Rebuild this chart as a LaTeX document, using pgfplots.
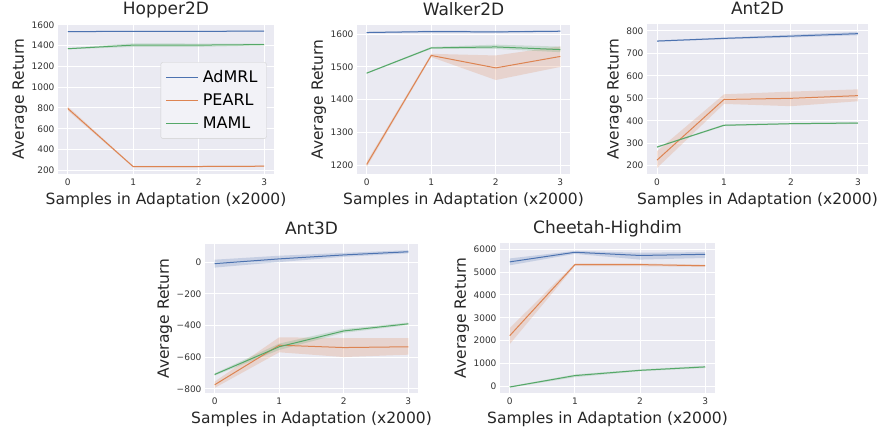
\documentclass[border=0pt]{standalone}
\usepackage{pgfplots}
\pgfplotsset{compat=1.18}
\usepackage{fontspec}
\setmainfont{DejaVu Sans}

\definecolor{cB}{HTML}{4C72B0}
\definecolor{cO}{HTML}{DD8452}
\definecolor{cG}{HTML}{55A868}
\definecolor{bgc}{HTML}{EAEAF2}
\definecolor{tickc}{HTML}{333333}

\pgfplotsset{
  sb/.style={
    scale only axis,
    anchor=south west,
    axis background/.style={fill=bgc},
    axis line style={draw=none},
    tick style={draw=none},
    grid=major,
    major grid style={white, line width=1pt},
    xmin=-0.15, xmax=3.15,
    xtick={0,1,2,3},
    /pgf/number format/assume math mode=true,
    /pgf/number format/1000 sep={},
    ticklabel style={font=\fontsize{9}{10}\selectfont, text=tickc},
    xticklabel style={yshift=-1pt},
    label style={font=\fontsize{15.5}{18}\selectfont, text=black!85},
    xlabel={Samples in Adaptation (x2000)},
    ylabel={Average Return},
    xlabel style={at={(axis description cs:0.5,0)}, anchor=base, yshift=-30pt, inner sep=0pt},
    ylabel style={inner sep=1pt},
    title style={font=\fontsize{17}{20}\selectfont, text=black!85, at={(axis description cs:0.5,1)}, anchor=base, yshift=3.5pt, inner sep=0pt},
    every axis plot/.append style={line width=1pt},
  },
  band/.style={draw=none, fill=#1, fill opacity=0.22, forget plot},
}

\begin{document}
\begin{tikzpicture}

% Hopper2D
\begin{axis}[sb, at={(58pt,-174pt)}, width=216pt, height=150pt,
  title={Hopper2D}, ymin=165, ymax=1608,
  ytick={200,400,...,1600},
  legend style={at={(0.966,0.745)}, anchor=north east, fill=bgc!60!white, draw=black!18, rounded corners=2pt,
    font=\fontsize{16}{18}\selectfont, row sep=6pt, inner xsep=5pt, inner ysep=6pt,
    nodes={inner xsep=4pt}},
  legend cell align=left,
  legend image code/.code={\draw[#1] (0pt,0pt) -- (32pt,0pt);},
]
\addplot[band=cB] coordinates {(0,1540)(1,1542)(2,1542)(3,1545)(3,1535)(2,1532)(1,1532)(0,1530)} -- cycle;
\addplot[band=cO] coordinates {(0,815)(1,242)(2,244)(3,247)(3,233)(2,230)(1,228)(0,775)} -- cycle;
\addplot[band=cG] coordinates {(0,1376)(1,1422)(2,1420)(3,1418)(3,1402)(2,1388)(1,1388)(0,1364)} -- cycle;
\addplot[cB] coordinates {(0,1535)(1,1537)(2,1537)(3,1540)};
\addplot[cO] coordinates {(0,795)(1,235)(2,237)(3,240)};
\addplot[cG] coordinates {(0,1370)(1,1405)(2,1405)(3,1410)};
\legend{AdMRL,PEARL,MAML}
\end{axis}

% Walker2D
\begin{axis}[sb, at={(357pt,-174pt)}, width=213pt, height=149pt,
  title={Walker2D}, ymin=1173, ymax=1628,
  ytick={1200,1300,...,1600},
]
\addplot[band=cB] coordinates {(0,1607)(1,1611)(2,1610)(3,1611)(3,1607)(2,1604)(1,1605)(0,1603)} -- cycle;
\addplot[band=cO] coordinates {(0,1210)(1,1540)(2,1535)(3,1563)(3,1500)(2,1460)(1,1530)(0,1194)} -- cycle;
\addplot[band=cG] coordinates {(0,1483)(1,1561)(2,1568)(3,1562)(3,1545)(2,1555)(1,1555)(0,1479)} -- cycle;
\addplot[cB] coordinates {(0,1605)(1,1608)(2,1607)(3,1609)};
\addplot[cO] coordinates {(0,1202)(1,1535)(2,1497)(3,1532)};
\addplot[cG] coordinates {(0,1481)(1,1558)(2,1561)(3,1553)};
\end{axis}

% Ant2D
\begin{axis}[sb, at={(647pt,-174pt)}, width=221pt, height=150pt,
  title={Ant2D}, ymin=163, ymax=831,
  ytick={200,300,...,800},
]
\addplot[band=cB] coordinates {(0,758)(1,771)(2,783)(3,796)(3,781)(2,771)(1,763)(0,752)} -- cycle;
\addplot[band=cO] coordinates {(0,265)(1,518)(2,530)(3,540)(3,487)(2,465)(1,475)(0,190)} -- cycle;
\addplot[band=cG] coordinates {(0,286)(1,384)(2,390)(3,394)(3,386)(2,384)(1,376)(0,280)} -- cycle;
\addplot[cB] coordinates {(0,755)(1,767)(2,777)(3,788)};
\addplot[cO] coordinates {(0,225)(1,495)(2,500)(3,512)};
\addplot[cG] coordinates {(0,283)(1,380)(2,387)(3,390)};
\end{axis}

% Ant3D
\begin{axis}[sb, at={(205pt,-393pt)}, width=213pt, height=149pt,
  title={Ant3D}, ymin=-827, ymax=114,
  ytick={-800,-600,-400,-200,0},
  yticklabels={−800,−600,−400,−200,0},
]
\addplot[band=cB] coordinates {(0,15)(1,40)(2,58)(3,75)(3,55)(2,33)(1,0)(0,-35)} -- cycle;
\addplot[band=cO] coordinates {(0,-755)(1,-475)(2,-480)(3,-480)(3,-585)(2,-600)(1,-570)(0,-795)} -- cycle;
\addplot[band=cG] coordinates {(0,-703)(1,-515)(2,-423)(3,-382)(3,-398)(2,-447)(1,-555)(0,-717)} -- cycle;
\addplot[cB] coordinates {(0,-10)(1,20)(2,45)(3,65)};
\addplot[cO] coordinates {(0,-775)(1,-525)(2,-540)(3,-535)};
\addplot[cG] coordinates {(0,-710)(1,-535)(2,-435)(3,-390)};
\end{axis}

% Cheetah-Highdim
\begin{axis}[sb, at={(500pt,-393pt)}, width=215pt, height=150pt,
  title={Cheetah-Highdim}, ymin=-293, ymax=6276,
  ytick={0,1000,...,6000},
]
\addplot[band=cB] coordinates {(0,5600)(1,5930)(2,5850)(3,5880)(3,5620)(2,5550)(1,5800)(0,5300)} -- cycle;
\addplot[band=cO] coordinates {(0,2550)(1,5380)(2,5380)(3,5330)(3,5230)(2,5260)(1,5270)(0,1850)} -- cycle;
\addplot[band=cG] coordinates {(0,0)(1,520)(2,740)(3,900)(3,800)(2,660)(1,400)(0,-60)} -- cycle;
\addplot[cB] coordinates {(0,5450)(1,5870)(2,5730)(3,5780)};
\addplot[cO] coordinates {(0,2220)(1,5330)(2,5330)(3,5280)};
\addplot[cG] coordinates {(0,-30)(1,470)(2,700)(3,850)};
\end{axis}

\pgfresetboundingbox
\path[use as bounding box] (0pt,0pt) rectangle (880pt,-428pt);
\end{tikzpicture}
\end{document}
